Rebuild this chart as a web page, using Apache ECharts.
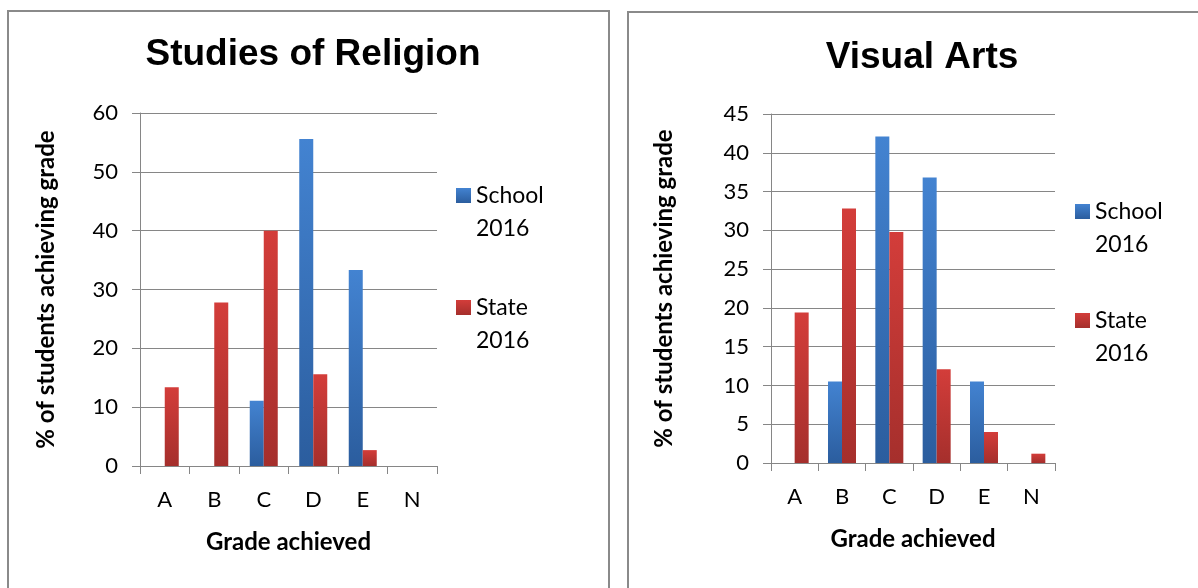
<!DOCTYPE html>
<html>
<head>
<meta charset="utf-8">
<script src="https://cdn.jsdelivr.net/npm/echarts@6/dist/echarts.min.js"></script>
<style>
  html, body { margin: 0; padding: 0; background: #fff; }
  #chart { width: 1198px; height: 588px; }
</style>
</head>
<body>
<div id="chart"></div>
<script>
const grades = ["A", "B", "C", "D", "E", "N"]
const seriesNames = ["School 2016", "State 2016"]
// Studies of Religion (% of students)
const religionSchool = [0, 0, 11.1, 55.6, 33.3, 0]
const religionState = [13.4, 27.8, 40.0, 15.6, 2.7, 0]
const religionTicks = [0, 10, 20, 30, 40, 50, 60]
// Visual Arts (% of students)
const artsSchool = [0, 10.5, 42.1, 36.8, 10.5, 0]
const artsState = [19.4, 32.8, 29.8, 12.1, 4.0, 1.2]
const artsTicks = [0, 5, 10, 15, 20, 25, 30, 35, 40, 45]

const axisGrey = "#868686"
const labelFont = "Lato"

// blue / red bar gradients, lighter at the top
const blueFill = new echarts.graphic.LinearGradient(0, 0, 0, 1, [
  { offset: 0, color: "#4383d1" },
  { offset: 1, color: "#2b5d9e" },
])
const redFill = new echarts.graphic.LinearGradient(0, 0, 0, 1, [
  { offset: 0, color: "#d33d3a" },
  { offset: 1, color: "#a52f2c" },
])

function makeXAxis(gridIndex, nameGap) {
  return {
    type: "category",
    gridIndex: gridIndex,
    data: grades,
    name: "Grade achieved",
    nameLocation: "middle",
    nameGap: nameGap,
    nameTextStyle: { fontFamily: labelFont, fontWeight: "bold", fontSize: 24, color: "#000" },
    axisLine: { lineStyle: { color: axisGrey, width: 1 } },
    axisTick: { show: true, length: 8, lineStyle: { color: axisGrey } },
    axisLabel: { margin: 23, fontFamily: labelFont, fontSize: 22, color: "#000" },
  }
}

function makeYAxis(gridIndex, ticks, nameGap) {
  return {
    type: "value",
    gridIndex: gridIndex,
    min: ticks[0],
    max: ticks[ticks.length - 1],
    interval: ticks[1] - ticks[0],
    name: "% of students achieving grade",
    nameLocation: "middle",
    nameGap: nameGap,
    nameTextStyle: { fontFamily: labelFont, fontWeight: "bold", fontSize: 24, color: "#000" },
    axisLine: { show: true, lineStyle: { color: axisGrey, width: 1 } },
    axisTick: { show: true, length: 8, lineStyle: { color: axisGrey } },
    splitLine: { show: true, lineStyle: { color: axisGrey, width: 1 } },
    axisLabel: { margin: 22, fontFamily: labelFont, fontSize: 22, color: "#000" },
  }
}

function makeBar(name, data, idx, fill) {
  return {
    type: "bar",
    name: name,
    xAxisIndex: idx,
    yAxisIndex: idx,
    data: data,
    barWidth: 14,
    barGap: "0%",
    itemStyle: { color: fill },
    emphasis: { disabled: true },
  }
}

function makeLegend(left, top, gap) {
  return {
    orient: "vertical",
    left: left,
    top: top,
    itemGap: gap,
    itemWidth: 15,
    itemHeight: 15,
    icon: "rect",
    data: seriesNames,
    // blank first line so the marker sits beside the first word
    formatter: function (name) {
      return " \n" + name.replace(" ", "\n")
    },
    textStyle: {
      fontFamily: labelFont,
      fontSize: 23,
      color: "#000",
      lineHeight: 33,
    },
  }
}

const titleStyle = { fontFamily: "Liberation Sans", fontWeight: "bold", fontSize: 37, color: "#000" }

const option = {
  animation: false,
  graphic: [
    // panel frames
    { type: "rect", shape: { x: 8, y: 11, width: 601, height: 620 }, style: { fill: "none", stroke: "#8a8a8a", lineWidth: 2 } },
    { type: "rect", shape: { x: 628, y: 12, width: 620, height: 620 }, style: { fill: "none", stroke: "#8a8a8a", lineWidth: 2 } },
  ],
  title: [
    { text: "Studies of Religion", left: 308, top: 31, textAlign: "center", textStyle: titleStyle },
    { text: "Visual Arts", left: 917, top: 34, textAlign: "center", textStyle: titleStyle },
  ],
  legend: [makeLegend(451, 141, 13), makeLegend(1070, 157, 10)],
  grid: [
    { left: 140, top: 113, width: 297, height: 353 },
    { left: 771, top: 114, width: 284, height: 349 },
  ],
  xAxis: [makeXAxis(0, 64), makeXAxis(1, 64)],
  yAxis: [makeYAxis(0, religionTicks, 82), makeYAxis(1, artsTicks, 95)],
  series: [
    makeBar(seriesNames[0], religionSchool, 0, blueFill),
    makeBar(seriesNames[1], religionState, 0, redFill),
    makeBar(seriesNames[0], artsSchool, 1, blueFill),
    makeBar(seriesNames[1], artsState, 1, redFill),
  ],
}

const myChart = echarts.init(document.getElementById("chart"))
myChart.setOption(option)
</script>
</body>
</html>
